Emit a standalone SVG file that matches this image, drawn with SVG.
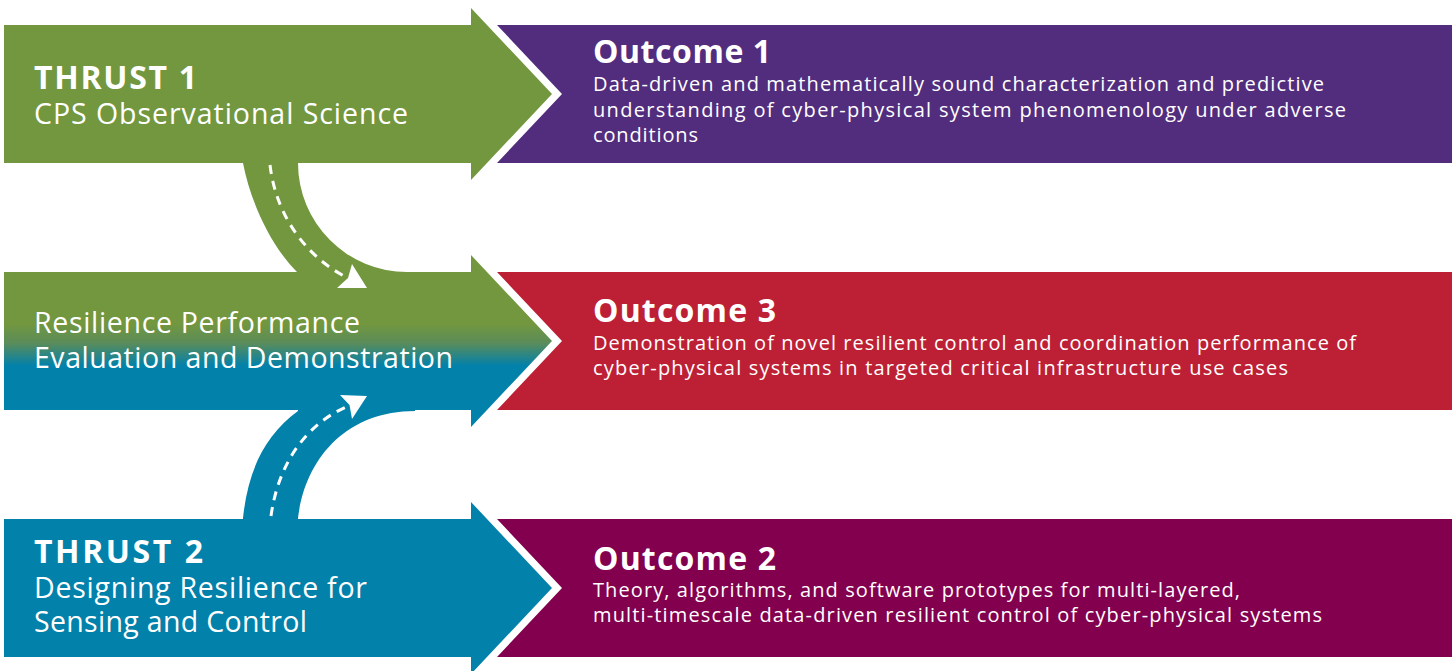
<svg xmlns="http://www.w3.org/2000/svg" width="1456" height="671" viewBox="0 0 1456 671">
<defs>
<style>
.tx{fill:#ffffff;font-family:"Open Sans","Liberation Sans",sans-serif}
.hd{font-weight:700;font-size:32px}
.lb{font-weight:400;font-size:28.5px}
.bd{font-weight:400;font-size:20px}
.green{fill:#72973f}
.blue{fill:#0281ab}
.purple{fill:#522d7d}
.red{fill:#bd2035}
.maroon{fill:#83004e}
.dash{fill:none;stroke:#ffffff;stroke-width:3;stroke-dasharray:9 7}
.ah{fill:#ffffff}
</style>
<linearGradient id="gb" gradientUnits="userSpaceOnUse" x1="0" y1="324" x2="0" y2="366">
<stop offset="0" stop-color="#72973f"/>
<stop offset="0.45" stop-color="#5b8c5a"/>
<stop offset="1" stop-color="#0281ab"/>
</linearGradient>
</defs>
<rect width="1456" height="671" fill="#ffffff"/>

<g id="outcome1">
<path class="purple" d="M497,25 H1452 V163 H497 L562,94 Z"/>
<text class="tx hd" x="593" y="63" textLength="178" lengthAdjust="spacing">Outcome 1</text>
<text class="tx bd" x="593" y="91" textLength="731" lengthAdjust="spacing">Data-driven and mathematically sound characterization and predictive</text>
<text class="tx bd" x="593" y="116.5" textLength="753" lengthAdjust="spacing">understanding of cyber-physical system phenomenology under adverse</text>
<text class="tx bd" x="593" y="142" textLength="105" lengthAdjust="spacing">conditions</text>
</g>

<g id="outcome3">
<path class="red" d="M497,272 H1452 V410 H497 L562,341 Z"/>
<text class="tx hd" x="593" y="322" textLength="183" lengthAdjust="spacing">Outcome 3</text>
<text class="tx bd" x="593" y="349.5" textLength="763" lengthAdjust="spacing">Demonstration of novel resilient control and coordination performance of</text>
<text class="tx bd" x="593" y="375" textLength="695" lengthAdjust="spacing">cyber-physical systems in targeted critical infrastructure use cases</text>
</g>

<g id="outcome2">
<path class="maroon" d="M497,519 H1452 V657 H497 L562,588 Z"/>
<text class="tx hd" x="593" y="570" textLength="183" lengthAdjust="spacing">Outcome 2</text>
<text class="tx bd" x="593" y="596.5" textLength="647" lengthAdjust="spacing">Theory, algorithms, and software prototypes for multi-layered,</text>
<text class="tx bd" x="593" y="622" textLength="729" lengthAdjust="spacing">multi-timescale data-driven resilient control of cyber-physical systems</text>
</g>

<g id="thrust1">
<path class="green" d="M4,25 H471 V8 L552,94 L471,180 V163 H4 Z"/>
<text class="tx hd" x="34" y="89" textLength="163" lengthAdjust="spacing">THRUST 1</text>
<text class="tx lb" x="34" y="124" textLength="374" lengthAdjust="spacing">CPS Observational Science</text>
</g>

<g id="evaluation">
<path fill="url(#gb)" d="M4,272 H471 V255 L552,341 L471,427 V410 H4 Z"/>
<text class="tx lb" x="34" y="333" textLength="326" lengthAdjust="spacing">Resilience Performance</text>
<text class="tx lb" x="34" y="368" textLength="419" lengthAdjust="spacing">Evaluation and Demonstration</text>
</g>

<g id="thrust2">
<path class="blue" d="M4,519 H471 V502 L552,588 L471,674 V657 H4 Z"/>
<text class="tx hd" x="34" y="562.5" textLength="169" lengthAdjust="spacing">THRUST 2</text>
<text class="tx lb" x="34" y="597.5" textLength="333" lengthAdjust="spacing">Designing Resilience for</text>
<text class="tx lb" x="34" y="632" textLength="273" lengthAdjust="spacing">Sensing and Control</text>
</g>

<g id="connectors">
<path class="green" d="M243,161 H298 V163 A109,109 0 0 0 407,272 V274 H297 V272 C270,245 250,200 243,163 Z"/>
<path class="dash" d="M270,165 C276,215 305,255 344,276"/>
<polygon class="ah" points="367,288 352,264 348,278 337,288"/>
<path class="blue" d="M243,521 H298 V518 C305,460 345,411 415,411 V408 H298 V411 C265,435 248,470 243,518 Z"/>
<path class="dash" d="M271,516 C278,465 305,425 346,407"/>
<polygon class="ah" points="367,396 340,395 349.5,405 352,419"/>
</g>
</svg>
